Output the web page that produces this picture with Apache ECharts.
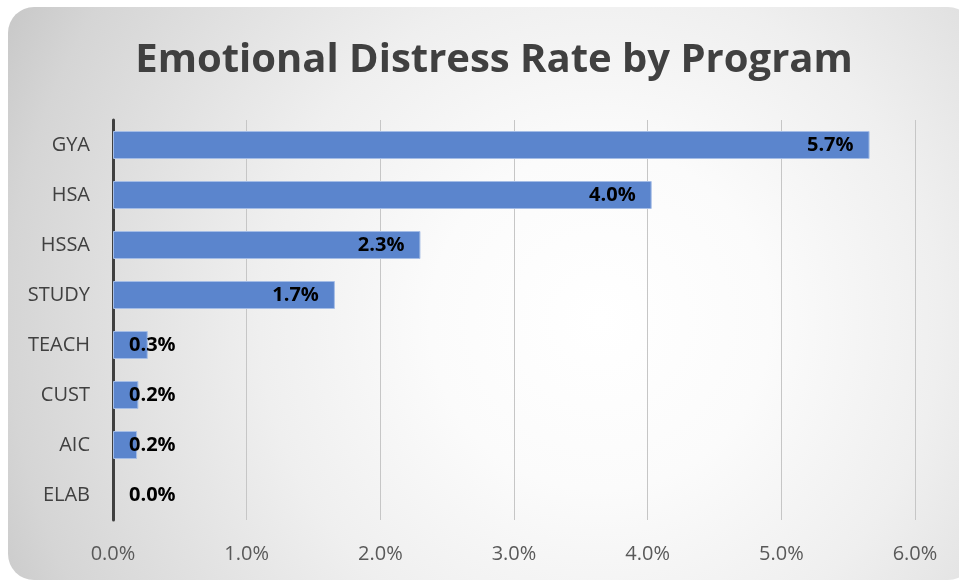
<!DOCTYPE html>
<html><head><meta charset="utf-8">
<script src="https://cdn.jsdelivr.net/npm/echarts@6/dist/echarts.min.js"></script>
<style>html,body{margin:0;padding:0;background:#fff}#c{width:959px;height:582px}</style>
</head><body><div id="c"></div>
<script>
var categories = ['GYA','HSA','HSSA','STUDY','TEACH','CUST','AIC','ELAB'];
var values = [5.66, 4.03, 2.30, 1.66, 0.26, 0.19, 0.18, 0.0];
var tickMax = 6;

var chart = echarts.init(document.getElementById('c'));
var data = values.map(function (v) {
  var small = v < 1;
  return {
    value: v,
    itemStyle: v === 0 ? { borderWidth: 0, color: 'rgba(0,0,0,0)' } : undefined,
    label: small ? { position: 'insideLeft', distance: 16 } : { position: 'insideRight', distance: 16 }
  };
});
chart.setOption({
  graphic: [{
    type: 'rect', z: -10, silent: true,
    shape: { x: 8, y: 7, width: 966, height: 573, r: 26 },
    style: {
      fill: new echarts.graphic.RadialGradient(600, 320, 680, [
        { offset: 0, color: '#ffffff' },
        { offset: 0.25, color: '#fbfbfb' },
        { offset: 0.5, color: '#efefef' },
        { offset: 0.87, color: '#d5d5d5' },
        { offset: 1, color: '#c6c6c6' }
      ], true)
    }
  }],
  title: {
    text: 'Emotional Distress Rate by Program',
    left: 489, top: 36, textAlign: 'center',
    textStyle: { fontFamily: 'Open Sans', fontWeight: 'bold', fontSize: 40, color: '#404040' }
  },
  grid: { left: 113, right: 44, top: 120, bottom: 62, containLabel: false },
  xAxis: {
    type: 'value', min: 0, max: tickMax, interval: 1,
    axisLine: { show: false }, axisTick: { show: false },
    splitLine: { lineStyle: { color: '#c6c6c6', width: 1 } },
    axisLabel: { margin: 24, fontFamily: 'Open Sans', fontSize: 20, color: '#595959',
      formatter: function (v) { return v.toFixed(1) + '%'; } }
  },
  yAxis: {
    type: 'category', data: categories, inverse: true,
    axisLine: { lineStyle: { color: '#404040', width: 3 } },
    axisTick: { show: false },
    axisLabel: { margin: 23, fontFamily: 'Open Sans', fontSize: 20, color: '#404040' }
  },
  series: [{
    type: 'bar', data: data, barCategoryGap: '44%',
    itemStyle: { color: '#5b85cd', borderColor: '#a5bde6', borderWidth: 1 },
    label: { show: true, fontFamily: 'Open Sans', fontWeight: 'bold', fontSize: 20, color: '#000',
      formatter: function (p) { return p.value.toFixed(1) + '%'; } }
  }]
});
</script></body></html>
